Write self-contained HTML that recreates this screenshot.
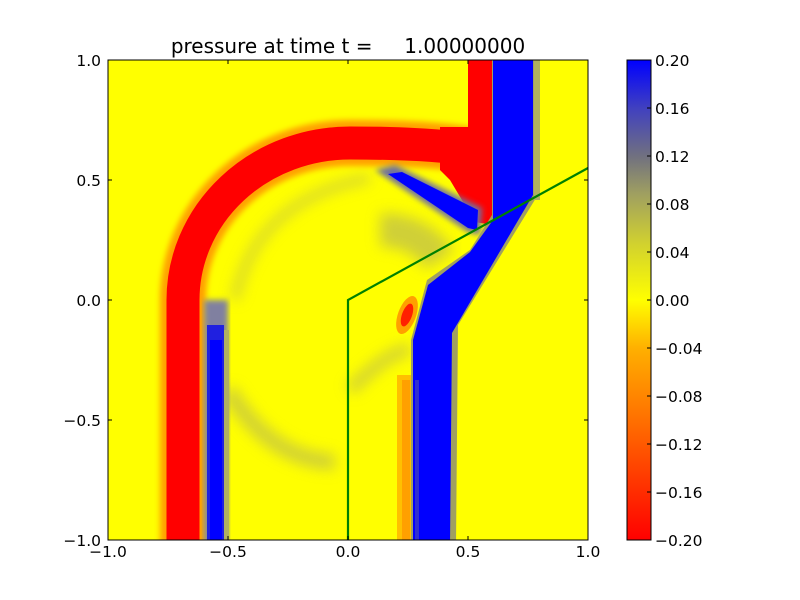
<!DOCTYPE html>
<html><head><meta charset="utf-8"><style>
body{margin:0;background:#fff;}
svg{display:block;font-family:"DejaVu Sans","Liberation Sans",sans-serif;}
</style></head><body>
<svg width="800" height="600" viewBox="0 0 800 600" xmlns="http://www.w3.org/2000/svg">
<defs>
<linearGradient id="cb" x1="0" y1="1" x2="0" y2="0">
<stop offset="0" stop-color="#ff0000"/>
<stop offset="0.25" stop-color="#ff7000"/>
<stop offset="0.4" stop-color="#ffb000"/>
<stop offset="0.5" stop-color="#ffff00"/>
<stop offset="0.62" stop-color="#d0d030"/>
<stop offset="0.72" stop-color="#a0a060"/>
<stop offset="0.8" stop-color="#707080"/>
<stop offset="0.9" stop-color="#4040c0"/>
<stop offset="1" stop-color="#0000ff"/>
</linearGradient>
<filter id="b3"><feGaussianBlur stdDeviation="3"/></filter>
<filter id="b6"><feGaussianBlur stdDeviation="7"/></filter>
<clipPath id="pc"><rect x="108" y="60" width="480" height="480"/></clipPath>
</defs>
<g clip-path="url(#pc)">
<rect x="108" y="60" width="480" height="480" fill="#ffff00"/>
<g filter="url(#b6)" opacity="0.5" fill="none" stroke="#a0a070">
<path d="M228 390 Q270 460 335 462" stroke-width="16"/>
<path d="M235 300 Q255 200 370 178" stroke-width="8"/>
<path d="M350 390 Q390 350 410 350" stroke-width="12"/>
<path d="M380 230 Q420 230 440 260" stroke-width="34"/>
</g>
<g fill="none" stroke="#ffa000" stroke-linejoin="round" filter="url(#b3)">
<path d="M183 545 L183 300 A167 157 0 0 1 350 143 Q430 143 470 150" stroke-width="46"/>
</g>
<g fill="none" stroke="#ff0000">
<path d="M183 545 L183 300 A167 157 0 0 1 350 143 Q430 143 470 150" stroke-width="33"/>
</g>
<polygon points="440,127 468,127 468,60 492,60 492,225 475,222 450,180 440,170" fill="#ff0000"/>
<rect x="204" y="300" width="24" height="245" fill="#8080a0" filter="url(#b3)"/>
<rect x="207" y="325" width="17" height="220" fill="#2020e0"/>
<rect x="210" y="340" width="12" height="205" fill="#0000ff"/>
<rect x="224" y="330" width="5" height="215" fill="#b0b060"/>
<rect x="397" y="375" width="18" height="170" fill="#ffc000"/>
<rect x="402" y="380" width="8" height="165" fill="#ffa000"/>
<ellipse cx="407" cy="315" rx="9" ry="20" fill="#ffa000" transform="rotate(20 407 315)"/>
<ellipse cx="407" cy="315" rx="5" ry="12" fill="#ff2000" transform="rotate(20 407 315)"/>
<polygon points="375,170 395,165 482,208 480,235 468,232" fill="#7070a0" filter="url(#b3)"/>
<polygon points="388,174 402,172 478,210 477,230 468,228" fill="#0000ff"/>
<polygon points="411,545 411,340 427,280 470,250 492,215 492,60 536,60 536,198 458,325 456,545" fill="#a0a060"/>
<polygon points="413,545 413,340 428,285 470,252 493,220 493,60 533,60 533,195 452,333 450,545" fill="#0000ff"/>
<rect x="534" y="60" width="6" height="140" fill="#b0b060"/>
<rect x="415" y="380" width="4" height="165" fill="#3030d0"/>
</g>
<polyline points="348,540 348,300 588,168" fill="none" stroke="#008000" stroke-width="2.2"/>
<rect x="108" y="60" width="480" height="480" fill="none" stroke="#000" stroke-width="1"/>
<g stroke="#000" stroke-width="1">
<line x1="228" y1="540" x2="228" y2="536"/><line x1="348" y1="540" x2="348" y2="536"/><line x1="468" y1="540" x2="468" y2="536"/>
<line x1="228" y1="60" x2="228" y2="64"/><line x1="348" y1="60" x2="348" y2="64"/><line x1="468" y1="60" x2="468" y2="64"/>
<line x1="108" y1="180" x2="112" y2="180"/><line x1="108" y1="300" x2="112" y2="300"/><line x1="108" y1="420" x2="112" y2="420"/>
<line x1="588" y1="180" x2="584" y2="180"/><line x1="588" y1="300" x2="584" y2="300"/><line x1="588" y1="420" x2="584" y2="420"/>
</g>
<g font-size="15.5" fill="#000" text-anchor="middle">
<text x="108" y="557">−1.0</text><text x="228" y="557">−0.5</text><text x="348" y="557">0.0</text><text x="468" y="557">0.5</text><text x="588" y="557">1.0</text>
</g>
<g font-size="15.5" fill="#000" text-anchor="end">
<text x="101" y="66">1.0</text><text x="101" y="186">0.5</text><text x="101" y="306">0.0</text><text x="101" y="426">−0.5</text><text x="101" y="546">−1.0</text>
</g>
<text x="348" y="53" font-size="20" text-anchor="middle" xml:space="preserve">pressure at time t =     1.00000000</text>
<rect x="627" y="60" width="24" height="480" fill="url(#cb)" stroke="#000" stroke-width="1"/>
<g stroke="#000" stroke-width="1">
<line x1="647" y1="108" x2="651" y2="108"/><line x1="647" y1="156" x2="651" y2="156"/><line x1="647" y1="204" x2="651" y2="204"/><line x1="647" y1="252" x2="651" y2="252"/><line x1="647" y1="300" x2="651" y2="300"/><line x1="647" y1="348" x2="651" y2="348"/><line x1="647" y1="396" x2="651" y2="396"/><line x1="647" y1="444" x2="651" y2="444"/><line x1="647" y1="492" x2="651" y2="492"/>
</g>
<g font-size="15.5" fill="#000">
<text x="655" y="66">0.20</text><text x="655" y="114">0.16</text><text x="655" y="162">0.12</text><text x="655" y="210">0.08</text><text x="655" y="258">0.04</text><text x="655" y="306">0.00</text><text x="655" y="354">−0.04</text><text x="655" y="402">−0.08</text><text x="655" y="450">−0.12</text><text x="655" y="498">−0.16</text><text x="655" y="546">−0.20</text>
</g>
</svg>
</body></html>
